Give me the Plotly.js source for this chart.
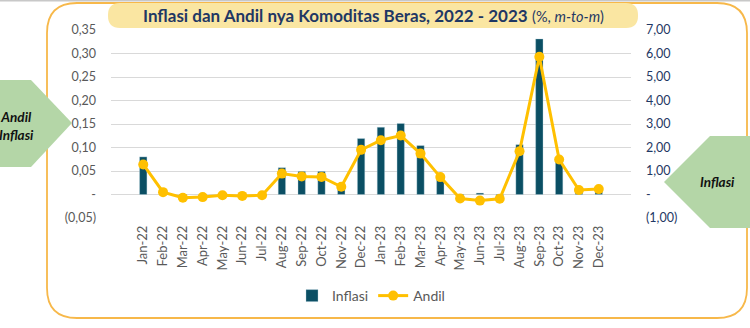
<!DOCTYPE html>
<html>
<head>
<meta charset="utf-8">
<script src="https://cdn.plot.ly/plotly-3.0.1.min.js"></script>
<style>html,body{margin:0;padding:0;background:#fff;}#chart{width:750px;height:328px;}</style>
</head>
<body>
<div id="chart"></div>
<script>
var categories = ["Jan-22","Feb-22","Mar-22","Apr-22","May-22","Jun-22","Jul-22","Aug-22","Sep-22","Oct-22","Nov-22","Dec-22",
                  "Jan-23","Feb-23","Mar-23","Apr-23","May-23","Jun-23","Jul-23","Aug-23","Sep-23","Oct-23","Nov-23","Dec-23"];
// bar series (legend "Inflasi"), read on the left axis
var inflasiBar = [0.080, 0.002, -0.002, -0.002, -0.001, -0.001, -0.001, 0.057, 0.049, 0.049, 0.016, 0.119,
                  0.143, 0.151, 0.104, 0.042, -0.002, 0.003, -0.003, 0.106, 0.331, 0.078, 0.011, 0.011];
// line series (legend "Andil"), read on the right axis
var andilLine = [1.28, 0.10, -0.14, -0.11, -0.03, -0.06, -0.03, 0.89, 0.77, 0.75, 0.33, 1.90,
                 2.31, 2.51, 1.74, 0.74, -0.17, -0.26, -0.18, 1.84, 5.86, 1.49, 0.19, 0.23];
var leftTickVals = [-0.05, 0, 0.05, 0.10, 0.15, 0.20, 0.25, 0.30, 0.35];
var leftTickText = ["(0,05)", "-", "0,05", "0,10", "0,15", "0,20", "0,25", "0,30", "0,35"];
var rightTickVals = [-1, 0, 1, 2, 3, 4, 5, 6, 7];
var rightTickText = ["(1,00)", "-", "1,00", "2,00", "3,00", "4,00", "5,00", "6,00", "7,00"];

var W = 750, H = 328, L = 111, R = 631, T = 30, B = 218;
function X(px){ return (px - L) / (R - L); }
function Y(py){ return (B - py) / (B - T); }
function rr(x0, y0, x1, y1, r){
  return "M" + X(x0+r) + "," + Y(y0) + " L" + X(x1-r) + "," + Y(y0) +
    " Q" + X(x1) + "," + Y(y0) + " " + X(x1) + "," + Y(y0+r) +
    " L" + X(x1) + "," + Y(y1-r) +
    " Q" + X(x1) + "," + Y(y1) + " " + X(x1-r) + "," + Y(y1) +
    " L" + X(x0+r) + "," + Y(y1) +
    " Q" + X(x0) + "," + Y(y1) + " " + X(x0) + "," + Y(y1-r) +
    " L" + X(x0) + "," + Y(y0+r) +
    " Q" + X(x0) + "," + Y(y0) + " " + X(x0+r) + "," + Y(y0) + " Z";
}
function poly(pts){
  return pts.map(function(p, i){ return (i ? "L" : "M") + X(p[0]) + "," + Y(p[1]); }).join(" ") + " Z";
}

var traces = [
  {type: "bar", name: "Inflasi", x: categories, y: inflasiBar, yaxis: "y",
   marker: {color: "#0B4F64", line: {color: "rgba(180,210,220,0.6)", width: 0.6}}},
  {type: "scatter", mode: "lines+markers", name: "Andil", x: categories, y: andilLine, yaxis: "y2",
   line: {color: "#FFC000", width: 3}, marker: {color: "#FFC000", size: 10}}
];

var fontFam = "Lato, 'Open Sans', sans-serif";
var layout = {
  width: W, height: H,
  margin: {l: L, r: W - R, t: T, b: H - B},
  paper_bgcolor: "#fff", plot_bgcolor: "rgba(0,0,0,0)",
  font: {family: fontFam, color: "#595959", size: 12},
  bargap: 0.63,
  showlegend: true,
  legend: {orientation: "h", x: 0.5, xanchor: "center", y: Y(296), yanchor: "middle",
           font: {size: 14, color: "#595959"}, traceorder: "normal", itemwidth: 30},
  xaxis: {type: "category", tickangle: -90, tickfont: {size: 13, color: "#595959"},
          showgrid: false, zeroline: false, showline: false, ticks: "", ticklabelstandoff: 4},
  yaxis: {range: [-0.05, 0.35], tickvals: leftTickVals, ticktext: leftTickText,
          showgrid: true, gridcolor: "#D9D9D9", gridwidth: 1, zeroline: false, showline: false,
          ticks: "", ticklabelstandoff: 14, tickfont: {size: 12.5, color: "#595959"}},
  yaxis2: {range: [-1, 7], tickvals: rightTickVals, ticktext: rightTickText, overlaying: "y", side: "right",
           showgrid: false, zeroline: false, showline: false, ticks: "", ticklabelstandoff: 14,
           tickfont: {size: 12.5, color: "#1F3864"}},
  shapes: [
    {type: "line", xref: "paper", yref: "paper", x0: X(0), x1: X(750), y0: Y(0.5), y1: Y(0.5),
     line: {color: "#C8C8C8", width: 2}, layer: "below"},
    {type: "path", xref: "paper", yref: "paper", path: rr(47, 3, 747, 318, 30),
     line: {color: "#F7B84A", width: 1.8}, fillcolor: "rgba(0,0,0,0)", layer: "below"},
    {type: "path", xref: "paper", yref: "paper", path: rr(108, 3, 638, 28, 12),
     line: {width: 0}, fillcolor: "#FAE6A2", layer: "below"},
    {type: "path", xref: "paper", yref: "paper", path: poly([[-5,80],[31,80],[72,123],[31,167],[-5,167]]),
     line: {width: 0}, fillcolor: "#B4D6A7", layer: "above"},
    {type: "path", xref: "paper", yref: "paper", path: poly([[755,136],[710,136],[664,182],[710,228],[755,228]]),
     line: {width: 0}, fillcolor: "#B4D6A7", layer: "above"}
  ],
  annotations: [
    {xref: "paper", yref: "paper", x: X(373), y: Y(15.5), xanchor: "center", yanchor: "middle", showarrow: false,
     text: "<b>Inflasi dan Andil nya Komoditas Beras, 2022 - 2023</b> <span style='font-size:14.5px'>(%, <i>m-to-m</i>)</span>",
     font: {family: fontFam, size: 17, color: "#1F3864"}},
    {xref: "paper", yref: "paper", x: X(16), y: Y(126), xanchor: "center", yanchor: "middle", showarrow: false,
     text: "<b><i>Andil<br>Inflasi</i></b>", align: "center",
     font: {family: fontFam, size: 13.5, color: "#111"}},
    {xref: "paper", yref: "paper", x: X(717), y: Y(182), xanchor: "center", yanchor: "middle", showarrow: false,
     text: "<b><i>Inflasi</i></b>", font: {family: fontFam, size: 13.5, color: "#111"}}
  ]
};

Plotly.newPlot("chart", traces, layout, {displayModeBar: false, staticPlot: true});
</script>
</body>
</html>
